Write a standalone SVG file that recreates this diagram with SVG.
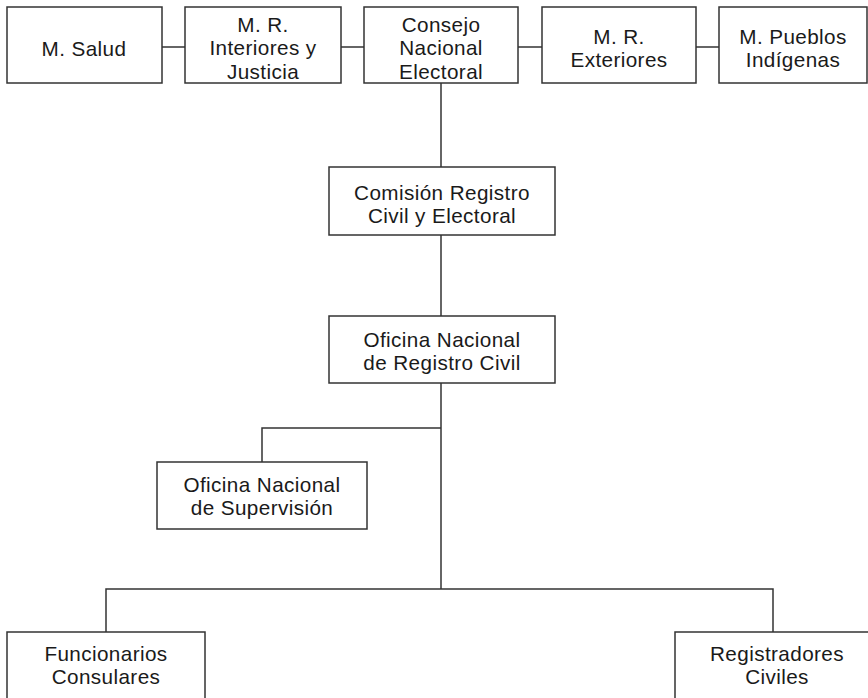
<svg xmlns="http://www.w3.org/2000/svg" width="868" height="698" viewBox="0 0 868 698">
<style>
.box{fill:#fff;stroke:#333;stroke-width:1.5}
.lbl{font-family:"Liberation Sans",Arial,sans-serif;font-size:20.7px;letter-spacing:0.4px;fill:#1a1a1a;text-anchor:middle}
.con{stroke:#333;stroke-width:1.5;fill:none}
</style>
<rect width="868" height="698" fill="#fff"/>
<g id="connectors">
<line class="con" x1="162" y1="47" x2="185" y2="47"/>
<line class="con" x1="341" y1="47" x2="364" y2="47"/>
<line class="con" x1="518" y1="47" x2="542" y2="47"/>
<line class="con" x1="696" y1="47" x2="719" y2="47"/>
<line class="con" x1="441" y1="83" x2="441" y2="167"/>
<line class="con" x1="441" y1="235" x2="441" y2="316"/>
<line class="con" x1="441" y1="383" x2="441" y2="589"/>
<polyline class="con" points="441,428 262,428 262,462"/>
<polyline class="con" points="106,632 106,589 773,589 773,632"/>
</g>
<g id="salud">
<rect class="box" x="7" y="7" width="155" height="76"/>
<text class="lbl" x="84" y="56">M. Salud</text>
</g>
<g id="interiores">
<rect class="box" x="185" y="7" width="156" height="76"/>
<text class="lbl" x="263" y="32">M. R.</text>
<text class="lbl" x="263" y="55.3">Interiores y</text>
<text class="lbl" x="263" y="78.6">Justicia</text>
</g>
<g id="consejo">
<rect class="box" x="364" y="7" width="154" height="76"/>
<text class="lbl" x="441" y="32">Consejo</text>
<text class="lbl" x="441" y="55.3">Nacional</text>
<text class="lbl" x="441" y="78.6">Electoral</text>
</g>
<g id="exteriores">
<rect class="box" x="542" y="7" width="154" height="76"/>
<text class="lbl" x="619" y="44">M. R.</text>
<text class="lbl" x="619" y="67.3">Exteriores</text>
</g>
<g id="pueblos">
<rect class="box" x="719" y="7" width="148" height="76"/>
<text class="lbl" x="793" y="44">M. Pueblos</text>
<text class="lbl" x="793" y="67.3">Indígenas</text>
</g>
<g id="comision">
<rect class="box" x="329" y="167" width="226" height="68"/>
<text class="lbl" x="442" y="200">Comisión Registro</text>
<text class="lbl" x="442" y="223.3">Civil y Electoral</text>
</g>
<g id="oficina-registro">
<rect class="box" x="329" y="316" width="226" height="67"/>
<text class="lbl" x="442" y="347">Oficina Nacional</text>
<text class="lbl" x="442" y="370.3">de Registro Civil</text>
</g>
<g id="oficina-supervision">
<rect class="box" x="157" y="462" width="210" height="67"/>
<text class="lbl" x="262" y="492">Oficina Nacional</text>
<text class="lbl" x="262" y="515.3">de Supervisión</text>
</g>
<g id="funcionarios">
<rect class="box" x="7" y="632" width="198" height="90"/>
<text class="lbl" x="106" y="661">Funcionarios</text>
<text class="lbl" x="106" y="684.3">Consulares</text>
</g>
<g id="registradores">
<rect class="box" x="675" y="632" width="203" height="90"/>
<text class="lbl" x="777" y="661">Registradores</text>
<text class="lbl" x="777" y="684.3">Civiles</text>
</g>
</svg>
